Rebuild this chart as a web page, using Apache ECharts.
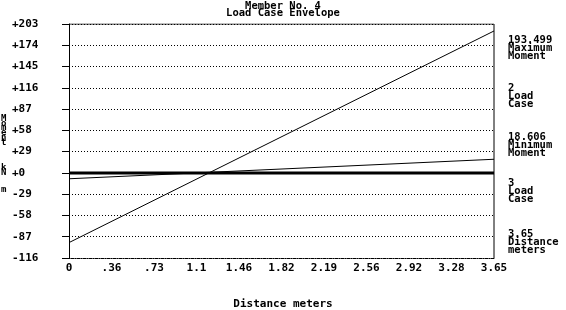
<!DOCTYPE html>
<html><head><meta charset="utf-8">
<script src="https://cdn.jsdelivr.net/npm/echarts@6/dist/echarts.min.js"></script>
<style>html,body{margin:0;padding:0;background:#fff}#c{width:566px;height:310px}</style>
</head><body><div id="c"></div>
<script>
var distance = [0, 3.65];
var maxMoment = [-95, 193.499];
var minMoment = [-8, 18.606];
var zeroLine = [0, 0];
var xTickLabels = ['0', '.36', '.73', '1.1', '1.46', '1.82', '2.19', '2.56', '2.92', '3.28', '3.65'];
var yMin = -116, yMax = 203, yStep = 29;

var FONT = '"DejaVu Sans Mono", monospace';
function pts(ys){ return distance.map(function(x,i){ return [x, ys[i]]; }); }
var chart = echarts.init(document.getElementById('c'));
var lbl = {fontFamily: FONT, fontWeight: 'bold', fontSize: 11, color: '#000'};
function txt(x, y, s, extra){
  return {type:'text', left:x, top:y, style:Object.assign({text:s, font:'bold 10.5px ' + FONT, fill:'#000', lineHeight:8}, extra||{})};
}
chart.setOption({
  animation: false,
  grid: {left: 69, right: 72, top: 24, bottom: 52},
  xAxis: {
    type: 'value', min: 0, max: 3.65, interval: 0.365,
    axisLine: {show: true, onZero: false, lineStyle: {color: '#000', width: 1, type: [1,1]}},
    axisTick: {show: false},
    splitLine: {show: false},
    axisLabel: Object.assign({margin: 5, formatter: function(v){ return xTickLabels[Math.round(v/0.365)]; }}, lbl)
  },
  yAxis: {
    type: 'value', min: yMin, max: yMax, interval: yStep,
    axisLine: {show: true, lineStyle: {color: '#000', width: 1}},
    axisTick: {show: true, length: 7, lineStyle: {color: '#000'}},
    splitLine: {show: true, lineStyle: {color: '#000', width: 1, type: [1,2]}},
    axisLabel: Object.assign({align: 'left', margin: 57, formatter: function(v){ return (v >= 0 ? '+' : '') + v; }}, lbl)
  },
  series: [
    {type:'line', data: pts(zeroLine), symbol:'none', lineStyle:{color:'#000', width:3}, z:3},
    {type:'line', data: pts(maxMoment), symbol:'none', lineStyle:{color:'#000', width:1}, z:4},
    {type:'line', data: pts(minMoment), symbol:'none', lineStyle:{color:'#000', width:1}, z:4},
    {type:'line', data: [[3.65, yMin],[3.65, yMax]], symbol:'none', lineStyle:{color:'#000', width:1}, z:2, silent:true},
    {type:'line', data: [[0, yMax],[3.65, yMax]], symbol:'none', lineStyle:{color:'#000', width:1}, z:2, silent:true}
  ],
  graphic: [
    txt('center', 1, 'Member No. 4', {lineHeight:7}),
    txt('center', 8, 'Load Case Envelope', {lineHeight:7}),
    txt(508, 35, '193.499\nMaximum\nMoment'),
    txt(508, 83, '2\nLoad\nCase'),
    txt(508, 132, '18.606\nMinimum\nMoment'),
    txt(508, 178, '3\nLoad\nCase'),
    txt(508, 229, '3.65\nDistance\nmeters'),
    txt(1, 114, 'M\no\nm\ne\nn\nt', {lineHeight:4.8, font:'bold 9px ' + FONT}),
    txt(1, 163, 'k\nN', {lineHeight:5.5, font:'bold 9px ' + FONT}),
    txt(1, 185, 'm', {font:'bold 9px ' + FONT}),
    txt('center', 299, 'Distance meters', {font:'bold 11px ' + FONT})
  ]
});
</script></body></html>
